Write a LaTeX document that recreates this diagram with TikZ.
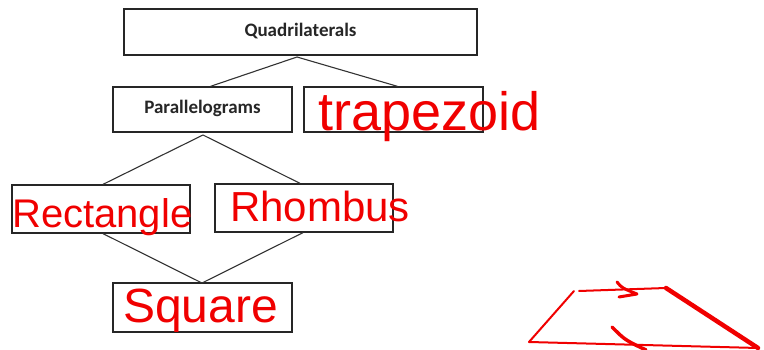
\documentclass[tikz,border=0pt]{standalone}
\usepackage{fontspec}
\setmainfont{Carlito}
\newfontfamily\handfont{Liberation Sans}
\definecolor{inkred}{RGB}{240,0,0}
\begin{document}
\begin{tikzpicture}[x=1pt,y=-1pt,
  box/.style={draw=black!85,line width=1.3pt,inner sep=0pt},
  conn/.style={draw=black!80,line width=1.1pt},
  lbl/.style={font=\fontsize{19}{21}\selectfont\bfseries,text=black!85},
  hand/.style={text=inkred,inner sep=0pt,anchor=base west},
  ink/.style={draw=inkred,line width=2pt,line cap=round,line join=round}]
\useasboundingbox (0,0) rectangle (764,350);
\fill[white] (0,0) rectangle (764,350);
% boxes
\node[box,minimum width=353pt,minimum height=46pt] (q) at (300.5,32) {};
\node[lbl] (qt) at (300.5,31) {Quadrilaterals};
\node[box,minimum width=179pt,minimum height=45pt] (p) at (202.5,109.5) {};
\node[lbl] (pt) at (202.5,108.5) {Parallelograms};
\node[box,minimum width=179pt,minimum height=45pt] (t) at (393.5,109.5) {};
\node[box,minimum width=178pt,minimum height=48pt] (r) at (101,209) {};
\node[box,minimum width=178pt,minimum height=48pt] (h) at (304,208) {};
\node[box,minimum width=179pt,minimum height=49pt] (s) at (202.5,307.5) {};
% connectors
\coordinate (qa) at (297,57);
\coordinate (pa) at (203,135);
\coordinate (sa) at (202,283);
\draw[conn] ([xshift=8pt]p.north) -- (qa) -- ([xshift=4pt]t.north);
\draw[conn] ([xshift=2pt]r.north) -- (pa) -- ([xshift=-4pt]h.north);
\draw[conn] ([xshift=2pt]r.south) -- (sa) -- ([xshift=-1pt]h.south);
% handwriting
\node[hand,font=\handfont\fontsize{54}{54}\selectfont] (tw) at (318,131) {trapezoid};
\node[hand,font=\handfont\fontsize{40}{40}\selectfont] (rw) at (12,228) {Rectangle};
\node[hand,font=\handfont\fontsize{42}{42}\selectfont] (hw) at (230,222) {Rhombus};
\node[hand,font=\handfont\fontsize{48}{48}\selectfont] (sw) at (123,323) {Square};
% sketched trapezoid
\coordinate (a1) at (574,291);
\coordinate (a2) at (529,342);
\coordinate (a3) at (758,348);
\coordinate (a4) at (666,288);
\coordinate (a5) at (579,291);
\draw[ink] (a1) -- (a2) -- (a3);
\draw[ink] (a5) -- (a4);
\draw[ink,line width=4.5pt] (a4) -- (a3);
\draw[ink,line width=3pt] (617,282) .. controls (622,288) .. (637,294) -- (619,297);
\draw[ink,line width=3.5pt] (612,327) .. controls (625,340) .. (646,350);
\end{tikzpicture}
\end{document}
